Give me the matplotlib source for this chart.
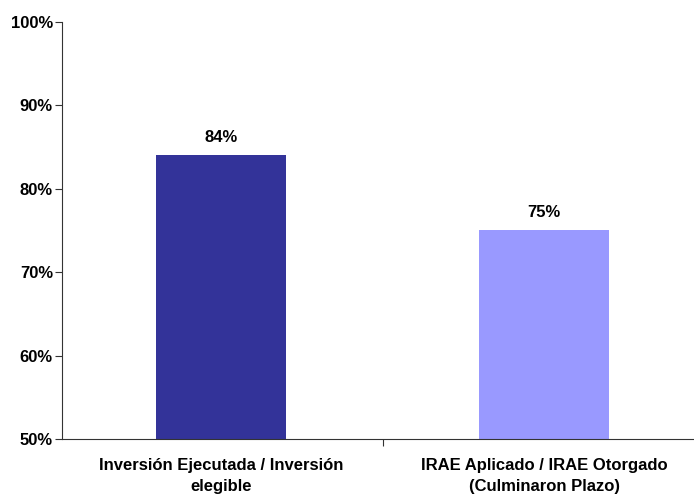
import matplotlib
matplotlib.use("Agg")
import matplotlib.pyplot as plt
from matplotlib.ticker import FixedLocator, FuncFormatter

categories = ["Inversión Ejecutada / Inversión\nelegible", "IRAE Aplicado / IRAE Otorgado\n(Culminaron Plazo)"]
values = [84, 75]
colors = ["#333399", "#9999FF"]
yticks = [50, 60, 70, 80, 90, 100]

plt.rcParams['font.family'] = ['Liberation Sans', 'DejaVu Sans']
fig = plt.figure(figsize=(6.94, 4.94), dpi=100)
ax = fig.add_axes([62/694, 55/494, 631/694, 417/494])

x = list(range(len(categories)))
ax.bar(x, values, width=0.4, color=colors, zorder=2)
for xi, v in zip(x, values):
    ax.text(xi, v + 1.3, f"{v}%", ha="center", va="bottom", fontsize=12, fontweight="bold")

ax.set_ylim(50, 100)
ax.set_xlim(-0.492, 1.461)
ax.yaxis.set_major_locator(FixedLocator(yticks))
ax.yaxis.set_major_formatter(FuncFormatter(lambda v, p: f"{int(v)}%"))
for lbl in ax.get_yticklabels():
    lbl.set_fontweight("bold")
ax.tick_params(axis="y", labelsize=12, length=5, width=0.8, color="#333333", pad=1.5)

ax.set_xticks([0.5])
ax.set_xticklabels([""])
ax.tick_params(axis="x", length=5, width=0.8, color="#333333")
for xi, c in zip(x, categories):
    ax.text(xi, -0.046, c, transform=ax.get_xaxis_transform(), ha="center", va="top",
            fontsize=12, fontweight="bold", linespacing=1.5)

for s in ["top", "right"]:
    ax.spines[s].set_visible(False)
for s in ["left", "bottom"]:
    ax.spines[s].set_color("#333333")
    ax.spines[s].set_linewidth(0.8)

fig.savefig("out.png", dpi=100)
